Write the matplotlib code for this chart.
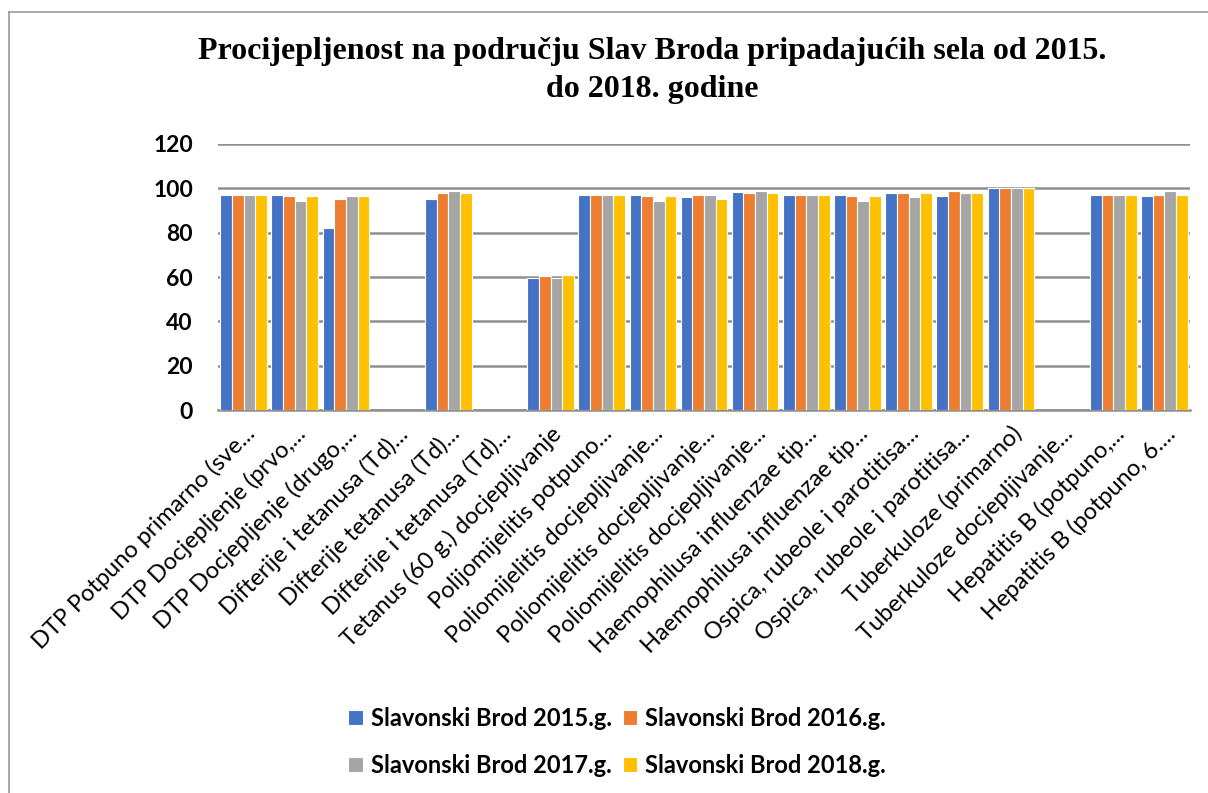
import matplotlib
matplotlib.use("Agg")
import matplotlib.pyplot as plt
import numpy as np
from matplotlib.lines import Line2D

categories = [
    "DTP Potpuno primarno (sve...",
    "DTP Docjepljenje (prvo,...",
    "DTP Docjepljenje (drugo,...",
    "Difterije i tetanusa (Td)...",
    "Difterije tetanusa (Td)...",
    "Difterije i tetanusa (Td)...",
    "Tetanus (60 g.) docjepljivanje",
    "Polijomijelitis potpuno...",
    "Poliomijelitis docjepljivanje...",
    "Poliomijelitis docjepljivanje...",
    "Poliomijelitis docjepljivanje...",
    "Haemophilusa influenzae tip...",
    "Haemophilusa influenzae tip...",
    "Ospica, rubeole i parotitisa...",
    "Ospica, rubeole i parotitisa...",
    "Tuberkuloze (primarno)",
    "Tuberkuloze docjepljivanje...",
    "Hepatitis B (potpuno,...",
    "Hepatitis B (potpuno, 6....",
]

series_names = ["Slavonski Brod 2015.g.", "Slavonski Brod 2016.g.",
                "Slavonski Brod 2017.g.", "Slavonski Brod 2018.g."]

nan = np.nan
v2015 = [97, 97, 82, nan, 95, nan, 59.5, 97, 97, 96, 98.2, 97, 97, 97.7, 96.5, 100, nan, 97, 96.5]
v2016 = [97, 96.5, 95.3, nan, 97.7, nan, 60.5, 97, 96.5, 97, 97.7, 97, 96.5, 97.7, 98.8, 100, nan, 97, 97]
v2017 = [97, 94.1, 96.5, nan, 98.8, nan, 59.5, 97, 94.1, 97, 98.8, 97, 94.1, 96, 97.7, 100, nan, 97, 98.8]
v2018 = [97, 96.5, 96.5, nan, 97.7, nan, 61, 97, 96.5, 95.3, 97.7, 97, 96.5, 97.7, 97.7, 100, nan, 97, 97]

yticks = [0, 20, 40, 60, 80, 100, 120]
colors = ["#4472C4", "#ED7D31", "#A5A5A5", "#FFC000"]

W, H = 1208, 793
fig = plt.figure(figsize=(W / 100, H / 100), dpi=100)

# frame of the chart area (cropped at right and bottom)
fig.add_artist(Line2D([9 / W, 1.0], [1 - 12 / H, 1 - 12 / H], color="#9a9a9a", lw=1.2, transform=fig.transFigure))
fig.add_artist(Line2D([9 / W, 9 / W], [0, 1 - 12 / H], color="#9a9a9a", lw=1.2, transform=fig.transFigure))

ax = fig.add_axes([218 / W, 1 - 410 / H, (1190 - 218) / W, (410 - 144) / H])

x = np.arange(len(categories))
bw = 0.228
data = [v2015, v2016, v2017, v2018]
for i, (vals, c, name) in enumerate(zip(data, colors, series_names)):
    ax.bar(x + (i - 1.5) * bw, vals, width=bw, color=c, edgecolor="white", linewidth=0.8, label=name, zorder=3)

ax.set_xlim(-0.5, len(categories) - 0.5)
ax.set_ylim(0, 120)
ax.set_yticks(yticks)
ax.set_yticklabels([str(t) for t in yticks], fontsize=16.5, fontweight="bold", family=["Lato", "DejaVu Sans"])
ax.yaxis.grid(True, color="#8f8f8f", linewidth=1.8, zorder=0)
ax.set_axisbelow(True)
for s in ["top", "right", "left"]:
    ax.spines[s].set_visible(False)
ax.spines["bottom"].set_color("#8f8f8f")
ax.spines["bottom"].set_linewidth(1.8)
ax.tick_params(axis="y", length=0, pad=18)
ax.tick_params(axis="x", length=0, pad=9)

ax.set_xticks(x)
ax.set_xticklabels(categories, rotation=45, ha="right", rotation_mode="anchor",
                   fontsize=17, family=["Lato", "DejaVu Sans"])

fig.text(652 / W, 1 - 51 / H, "Procijepljenost na području Slav Broda pripadajućih sela od 2015.",
         ha="center", va="center", fontsize=23, fontweight="bold", family=["Liberation Serif", "DejaVu Serif"])
fig.text(652 / W, 1 - 89 / H, "do 2018. godine",
         ha="center", va="center", fontsize=23, fontweight="bold", family=["Liberation Serif", "DejaVu Serif"])

handles, labels = ax.get_legend_handles_labels()
order = [0, 2, 1, 3]
leg = fig.legend([handles[k] for k in order], [labels[k] for k in order], loc="center",
                 bbox_to_anchor=(617 / W, 1 - 742 / H), ncol=2,
                 frameon=False, prop={"family": ["Lato", "DejaVu Sans"], "weight": "bold", "size": 17},
                 handlelength=0.6, handleheight=0.6, handletextpad=0.34, columnspacing=0.47,
                 labelspacing=1.0, borderpad=0)

fig.savefig("out.png", dpi=100, facecolor="white")
